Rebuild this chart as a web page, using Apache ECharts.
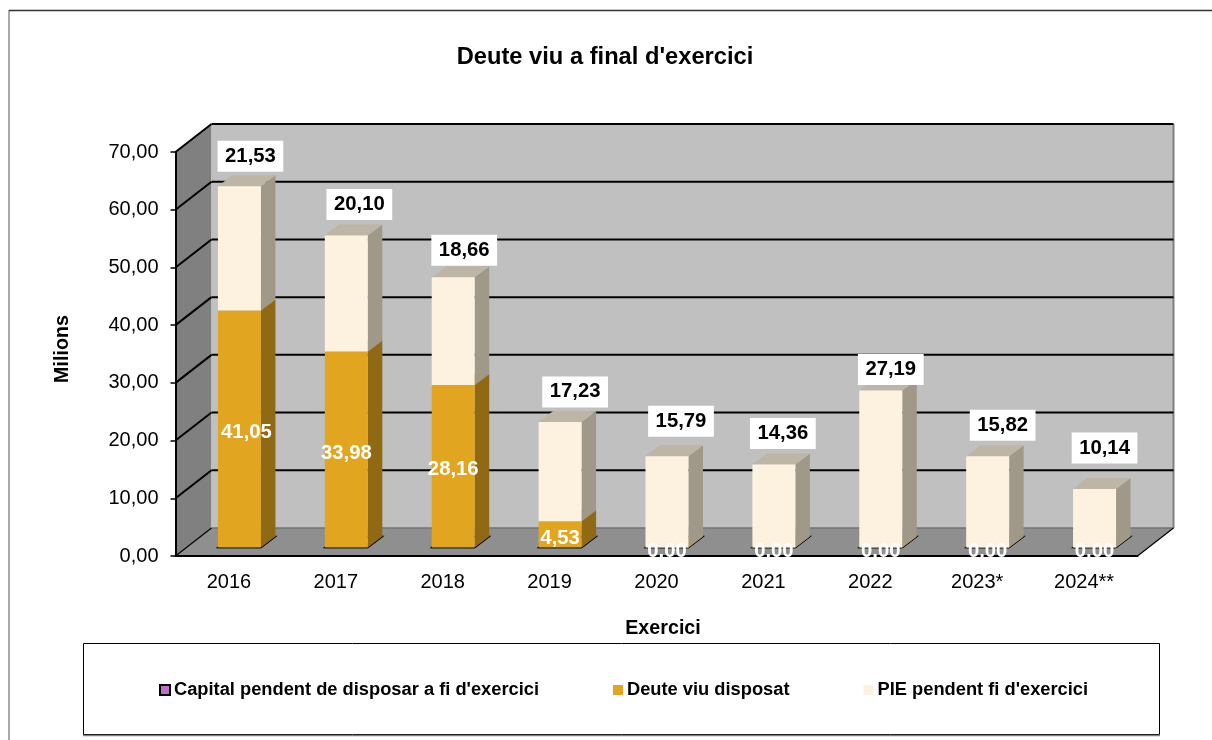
<!DOCTYPE html>
<html>
<head>
<meta charset="utf-8">
<style>html,body{margin:0;padding:0;background:#fff}#c{width:1212px;height:740px}</style>
<script src="https://cdn.jsdelivr.net/npm/echarts@6/dist/echarts.min.js"></script>
</head>
<body>
<div id="c"></div>
<script>
var categories = ['2016','2017','2018','2019','2020','2021','2022','2023*','2024**'];
var capitalPendent = [0,0,0,0,0,0,0,0,0];
var deuteViu = [41.05,33.98,28.16,4.53,0,0,0,0,0];
var piePendent = [21.53,20.10,18.66,17.23,15.79,14.36,27.19,15.82,10.14];
var yTicks = [0,10,20,30,40,50,60,70];

// label placement tweaks (px)
var pieNudgeX = [11,13,11,15,14,9,10,15,10];
var pieNudgeY = [-30,-31,-27,-30,-35,-31,-21,-31,-41];
var deuteNudgeX = [7,0,0,0,0,0,0,0,0];

var FONT = '"Liberation Sans", Arial, sans-serif';
var WALL = {dx:36, dy:-28};
var BAR = {ox:10.5, oy:-8.5, w:43, dx:14.5, dy:-11};
var fmt = function(v){ return Number(v).toFixed(2).replace('.',','); };

function poly(points, fill, stroke, lw){
  return {type:'polygon', shape:{points:points}, style:{fill:fill, stroke:stroke||null, lineWidth:lw||0}};
}
function line(a,b,color,lw){
  return {type:'line', shape:{x1:a[0],y1:a[1],x2:b[0],y2:b[1]}, style:{stroke:color,lineWidth:lw}};
}

function wallItem(params, api){
  var cs = params.coordSys, v = api.value(0);
  var x0 = cs.x, x1 = cs.x+cs.width, yb = cs.y+cs.height, yt = cs.y;
  var y = api.coord([0,v])[1];
  var kids = [];
  if(params.dataIndex===0){
    kids.push(poly([[x0,yb],[x0+WALL.dx,yb+WALL.dy],[x0+WALL.dx,yt+WALL.dy],[x0,yt]],'#808080'));
    kids.push(poly([[x0+WALL.dx,yb+WALL.dy],[x1+WALL.dx,yb+WALL.dy],[x1+WALL.dx,yt+WALL.dy],[x0+WALL.dx,yt+WALL.dy]],'#c0c0c0'));
    kids.push(line([x1+WALL.dx,yb+WALL.dy],[x1+WALL.dx,yt+WALL.dy],'#808080',2));
    kids.push(poly([[x0,yb],[x1,yb],[x1+WALL.dx,yb+WALL.dy],[x0+WALL.dx,yb+WALL.dy]],'#8f8f8f'));
    kids.push(line([x0+WALL.dx,yb+WALL.dy],[x1+WALL.dx,yb+WALL.dy],'#737373',1.5));
    kids.push(line([x0,yb],[x0+WALL.dx,yb+WALL.dy],'#000',1.2));
    kids.push(line([x1,yb],[x1+WALL.dx,yb+WALL.dy],'#000',1.2));
  } else {
    kids.push(line([x0,y],[x0+WALL.dx,y+WALL.dy],'#000',2));
    kids.push(line([x0+WALL.dx,y+WALL.dy],[x1+WALL.dx,y+WALL.dy],'#000',2));
  }
  return {type:'group', children:kids};
}

function box(api, i, base, val, c){
  var cx = api.coord([i,0])[0];
  var l = cx+BAR.ox-BAR.w/2, r = l+BAR.w;
  var yb = api.coord([i,base])[1]+BAR.oy;
  var yt = api.coord([i,base+val])[1]+BAR.oy;
  return [
    poly([[r,yb],[r+BAR.dx,yb+BAR.dy],[r+BAR.dx,yt+BAR.dy],[r,yt]], c.side, c.stroke, c.lw),
    poly([[l,yt],[r,yt],[r+BAR.dx,yt+BAR.dy],[l+BAR.dx,yt+BAR.dy]], c.top, c.stroke, c.lw),
    poly([[l,yb],[r,yb],[r,yt],[l,yt]], c.front, c.stroke, c.lw)
  ];
}

function capitalItem(params, api){
  var i = params.dataIndex;
  return {type:'group', children: box(api,i,0,capitalPendent[i],
    {front:'#c06fc8',side:'#c06fc8',top:'#c06fc8',stroke:'#000',lw:1.5})};
}
function deuteItem(params, api){
  var i = params.dataIndex, base = capitalPendent[i], v = deuteViu[i];
  var kids = box(api,i,base,v,{front:'#e2a520',side:'#8f6914',top:'#a87c18'});
  var cx = api.coord([i,0])[0];
  var ym = api.coord([i,base+v/2])[1]+BAR.oy;
  kids.push({type:'text', z2:100, x:cx+BAR.ox+deuteNudgeX[i], y:ym+3.5,
    style:{text:fmt(v), font:'bold 20.3px '+FONT, fill:'#fff', align:'center', verticalAlign:'middle'}});
  return {type:'group', children:kids};
}
function pieItem(params, api){
  var i = params.dataIndex, base = capitalPendent[i]+deuteViu[i], v = piePendent[i];
  var kids = box(api,i,base,v,{front:'#fdf2df',side:'#a09888',top:'#bdb5a5'});
  var cx = api.coord([i,0])[0];
  var yt = api.coord([i,base+v])[1]+BAR.oy;
  kids.push({type:'text', z2:100, x:cx+BAR.ox+pieNudgeX[i], y:yt+pieNudgeY[i],
    style:{text:fmt(v), font:'bold 20.3px '+FONT, fill:'#000', align:'center', verticalAlign:'middle',
      backgroundColor:'#fff', padding:[9,7.5,2,7.5]}});
  return {type:'group', children:kids};
}

var legendNames = ["Capital pendent de disposar a fi d'exercici","Deute viu disposat","PIE pendent fi d'exercici"];

var chart = echarts.init(document.getElementById('c'), null, {renderer:'canvas'});
chart.setOption({
  animation:false,
  backgroundColor:'#fff',
  title:{text:"Deute viu a final d'exercici", left:600, top:40, textAlign:'center',
    textStyle:{fontFamily:FONT,fontWeight:'bold',fontSize:23.7,color:'#000'}},
  grid:{left:175.5, right:74.5, top:152, bottom:184, containLabel:false},
  legend:{left:154, top:676, orient:'horizontal', itemWidth:10, itemHeight:10, itemGap:74,
    selectedMode:false,
    textStyle:{fontFamily:FONT,fontWeight:'bold',fontSize:18.3,color:'#000',padding:[0,0,0,-1]},
    data:[
      {name:legendNames[0], icon:'rect', itemStyle:{color:'#c06fc8',borderColor:'#000',borderWidth:2}},
      {name:legendNames[1], icon:'rect', itemStyle:{color:'#e2a520',borderWidth:0}},
      {name:legendNames[2], icon:'rect', itemStyle:{color:'#fdf2df',borderWidth:0}}
    ]},
  xAxis:{type:'category', data:categories, z:1, name:'Exercici', nameLocation:'middle', nameGap:63,
    nameTextStyle:{fontFamily:FONT,fontWeight:'bold',fontSize:19.7,color:'#000',padding:[0,0,0,13]},
    axisLine:{lineStyle:{color:'#000',width:2}},
    axisTick:{length:6,alignWithLabel:false,lineStyle:{color:'#000',width:1.5}},
    axisLabel:{fontFamily:FONT,fontSize:20,color:'#000',margin:16}},
  yAxis:{type:'value', min:0, max:70, interval:10, z:1, name:'Milions', nameLocation:'middle', nameGap:103,
    nameTextStyle:{fontFamily:FONT,fontWeight:'bold',fontSize:19.7,color:'#000',padding:[0,0,0,10]},
    splitLine:{show:false},
    axisLine:{show:true,lineStyle:{color:'#000',width:2}},
    axisTick:{show:true,length:5,lineStyle:{color:'#000',width:1.5}},
    axisLabel:{fontFamily:FONT,fontSize:20,color:'#000',margin:17,formatter:fmt,padding:[2,0,0,0]}},
  graphic:[
    {type:'line', shape:{x1:9,y1:10,x2:9,y2:740}, style:{stroke:'#555',lineWidth:1}, silent:true},
    {type:'line', shape:{x1:9,y1:10.5,x2:1212,y2:10.5}, style:{stroke:'#333',lineWidth:1.5}, silent:true},
    {type:'rect', shape:{x:83.5,y:643.5,width:1076,height:91}, style:{fill:'#fff',stroke:'#000',lineWidth:1}, silent:true, z:-1},
    {type:'line', shape:{x1:83,y1:735.5,x2:1160,y2:735.5}, style:{stroke:'#808080',lineWidth:1.5}, silent:true}
  ],
  series:[
    {type:'custom', name:'parets', z:0, silent:true, clip:false, renderItem:wallItem, data:yTicks, encode:{y:0}},
    {type:'custom', name:legendNames[0], z:2, silent:true, clip:false, renderItem:capitalItem, data:capitalPendent, itemStyle:{color:'#c06fc8'}},
    {type:'custom', name:legendNames[1], z:2, silent:true, clip:false, renderItem:deuteItem, data:deuteViu, itemStyle:{color:'#e2a520'}},
    {type:'custom', name:legendNames[2], z:2, silent:true, clip:false, renderItem:pieItem, data:piePendent, itemStyle:{color:'#fdf2df'}}
  ]
});
</script>
</body>
</html>
